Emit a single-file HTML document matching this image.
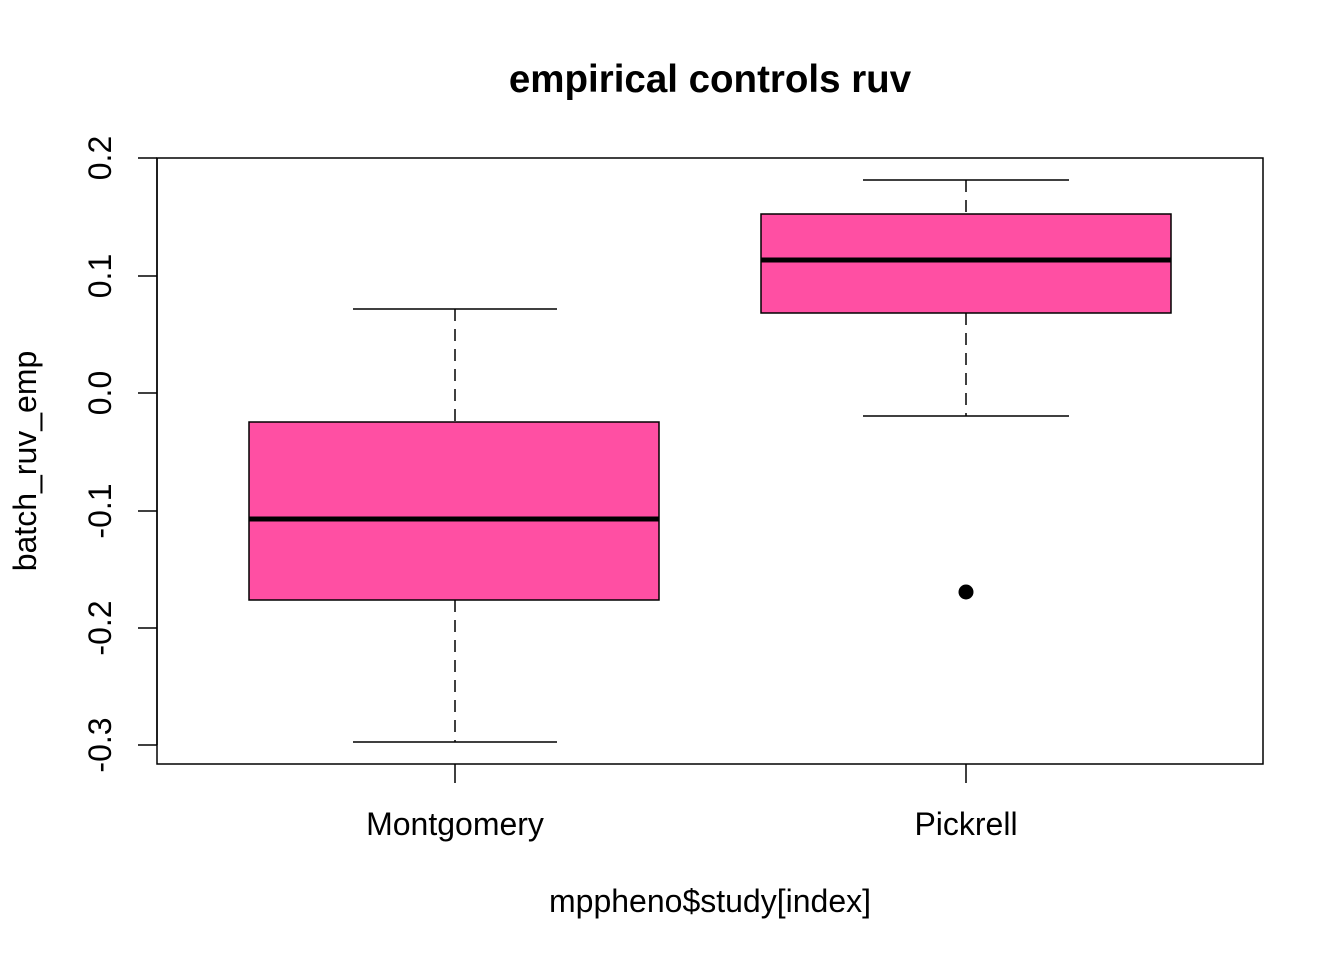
<!DOCTYPE html>
<html><head><style>body{margin:0;background:#fff}</style></head><body>
<svg width="1344" height="960" xmlns="http://www.w3.org/2000/svg" font-family="Liberation Sans, Arial, sans-serif">
<rect width="1344" height="960" fill="#fff"/>
<text x="710" y="92" font-size="38.5" font-weight="bold" text-anchor="middle">empirical controls ruv</text>
<rect x="157" y="158" width="1106" height="606" fill="none" stroke="#000" stroke-width="1.5"/>
<g stroke="#000" stroke-width="1.5">
<line x1="157" y1="158" x2="157" y2="745"/>
<line x1="138" y1="158" x2="157" y2="158"/>
<line x1="138" y1="276" x2="157" y2="276"/>
<line x1="138" y1="393" x2="157" y2="393"/>
<line x1="138" y1="511" x2="157" y2="511"/>
<line x1="138" y1="628" x2="157" y2="628"/>
<line x1="138" y1="745" x2="157" y2="745"/>
<line x1="455" y1="764" x2="455" y2="783"/>
<line x1="966" y1="764" x2="966" y2="783"/>
</g>
<g font-size="32" text-anchor="middle">
<text transform="translate(111,158) rotate(-90)">0.2</text>
<text transform="translate(111,276) rotate(-90)">0.1</text>
<text transform="translate(111,393) rotate(-90)">0.0</text>
<text transform="translate(111,511) rotate(-90)">-0.1</text>
<text transform="translate(111,628) rotate(-90)">-0.2</text>
<text transform="translate(111,745) rotate(-90)">-0.3</text>
<text x="455" y="835">Montgomery</text>
<text x="966" y="835">Pickrell</text>
<text x="710" y="912">mppheno$study[index]</text>
<text transform="translate(36,461) rotate(-90)">batch_ruv_emp</text>
</g>
<g stroke="#000" stroke-width="1.5">
<line x1="455" y1="309" x2="455" y2="422" stroke-dasharray="12,8"/>
<line x1="455" y1="600" x2="455" y2="742" stroke-dasharray="12,8"/>
<line x1="353" y1="309" x2="557" y2="309"/>
<line x1="353" y1="742" x2="557" y2="742"/>
<rect x="249" y="422" width="410" height="178" fill="#FF4FA3"/>
<line x1="966" y1="180" x2="966" y2="214" stroke-dasharray="12,8"/>
<line x1="966" y1="313" x2="966" y2="416" stroke-dasharray="12,8"/>
<line x1="863" y1="180" x2="1069" y2="180"/>
<line x1="863" y1="416" x2="1069" y2="416"/>
<rect x="761" y="214" width="410" height="99" fill="#FF4FA3"/>
</g>
<line x1="249" y1="519" x2="659" y2="519" stroke="#000" stroke-width="5"/>
<line x1="761" y1="260" x2="1171" y2="260" stroke="#000" stroke-width="5"/>
<circle cx="966" cy="592" r="7.5" fill="#000"/>
</svg>
</body></html>
